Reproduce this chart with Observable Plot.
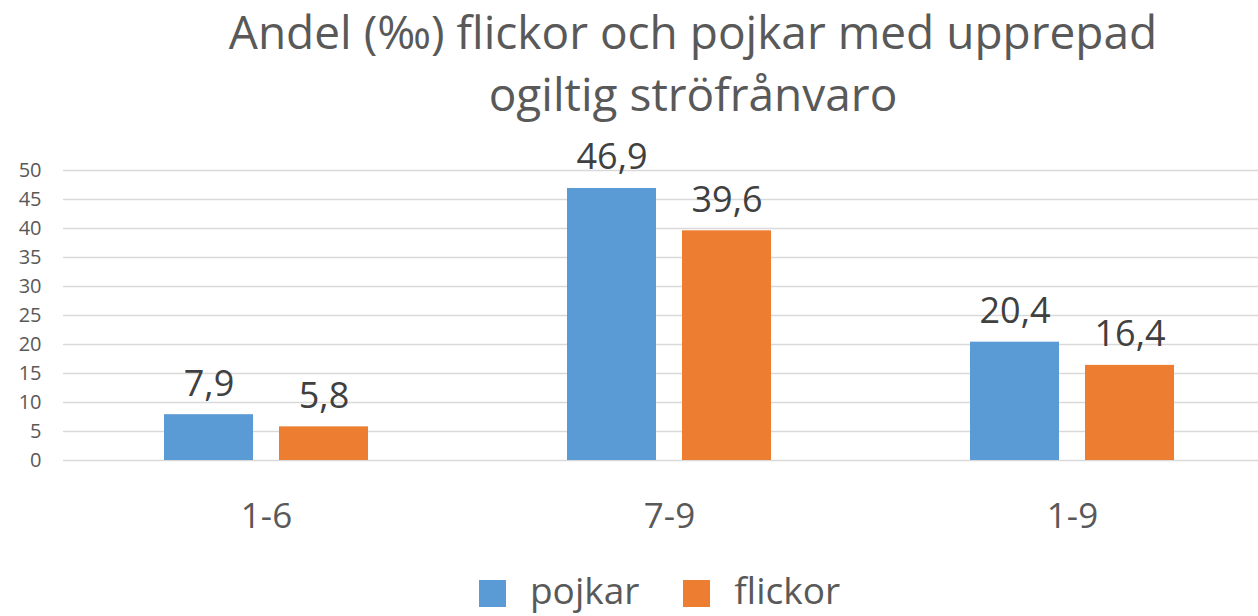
<!DOCTYPE html>
<html>
<head>
<meta charset="utf-8">
<script src="https://cdn.jsdelivr.net/npm/d3@7"></script>
<script src="https://cdn.jsdelivr.net/npm/@observablehq/plot@0.6"></script>
<style>
  html, body { margin: 0; padding: 0; background: #fff; }
  #wrap { position: relative; width: 1258px; height: 616px; overflow: hidden; font-family: "Open Sans", sans-serif; }
  #title { position: absolute; left: 128px; right: 0; top: 0px; text-align: center; color: #595959; font-size: 46px; line-height: 62px; }
  #chart { position: absolute; left: 0; top: 130px; }
  #legend { position: absolute; left: 0; right: 0; top: 570px; height: 40px; display: flex; justify-content: center; align-items: center; padding-left: 61px; color: #595959; font-size: 37px; line-height: 40px; }
  .sw { display: inline-block; width: 27px; height: 27px; margin-right: 24px; margin-top: 6px; }
  .item { display: flex; align-items: center; margin: 0 22px; }
</style>
</head>
<body>
<div id="wrap">
  <div id="title">Andel (‰) flickor och pojkar med upprepad<br>ogiltig ströfrånvaro</div>
  <div id="chart"></div>
  <div id="legend"></div>
</div>
<script>
const categories = ["1-6", "7-9", "1-9"];
const seriesNames = ["pojkar", "flickor"];
const pojkar = [7.9, 46.9, 20.4];
const flickor = [5.8, 39.6, 16.4];
const yTicks = [0, 5, 10, 15, 20, 25, 30, 35, 40, 45, 50];
const colors = ["#5B9BD5", "#ED7D31"];

const pojkarRows = categories.map((c, i) => ({cat: c, series: "pojkar", value: pojkar[i]}));
const flickorRows = categories.map((c, i) => ({cat: c, series: "flickor", value: flickor[i]}));
const fmt = d => d.value.toFixed(1).replace(".", ",");

const plot = Plot.plot({
  width: 1258,
  height: 410,
  marginLeft: 63,
  marginRight: 0,
  marginTop: 40,
  marginBottom: 80,
  style: {fontFamily: "Open Sans, sans-serif", background: "white", overflow: "visible"},
  x: {domain: categories, paddingInner: 0.4926, paddingOuter: 0.2253, align: 0.549, axis: null},
  y: {domain: [0, 50], axis: null},
  color: {domain: seriesNames, range: colors},
  marks: [
    Plot.ruleY(yTicks, {y: d => d, stroke: "#d9d9d9", strokeWidth: 1.3}),
    Plot.text(yTicks, {y: d => d, text: d => String(d), frameAnchor: "left", dx: -22, textAnchor: "end", fontSize: 20, fill: "#595959"}),
    Plot.barY(pojkarRows, {x: "cat", y: "value", fill: "series", insetRight: 115}),
    Plot.barY(flickorRows, {x: "cat", y: "value", fill: "series", insetLeft: 115}),
    Plot.text(pojkarRows, {x: "cat", y: "value", text: fmt, dx: -57.5, dy: -19, lineAnchor: "bottom", fontSize: 36, fill: "#404040"}),
    Plot.text(flickorRows, {x: "cat", y: "value", text: fmt, dx: 57.5, dy: -19, lineAnchor: "bottom", fontSize: 36, fill: "#404040"}),
    Plot.text(categories, {x: d => d, text: d => d, frameAnchor: "bottom", dy: 56, lineAnchor: "middle", fontSize: 35, fill: "#595959"})
  ]
});
document.getElementById("chart").appendChild(plot);

const legend = document.getElementById("legend");
seriesNames.forEach((s, i) => {
  const item = document.createElement("div");
  item.className = "item";
  const sw = document.createElement("span");
  sw.className = "sw";
  sw.style.background = colors[i];
  const t = document.createElement("span");
  t.textContent = s;
  item.appendChild(sw);
  item.appendChild(t);
  legend.appendChild(item);
});
</script>
</body>
</html>
